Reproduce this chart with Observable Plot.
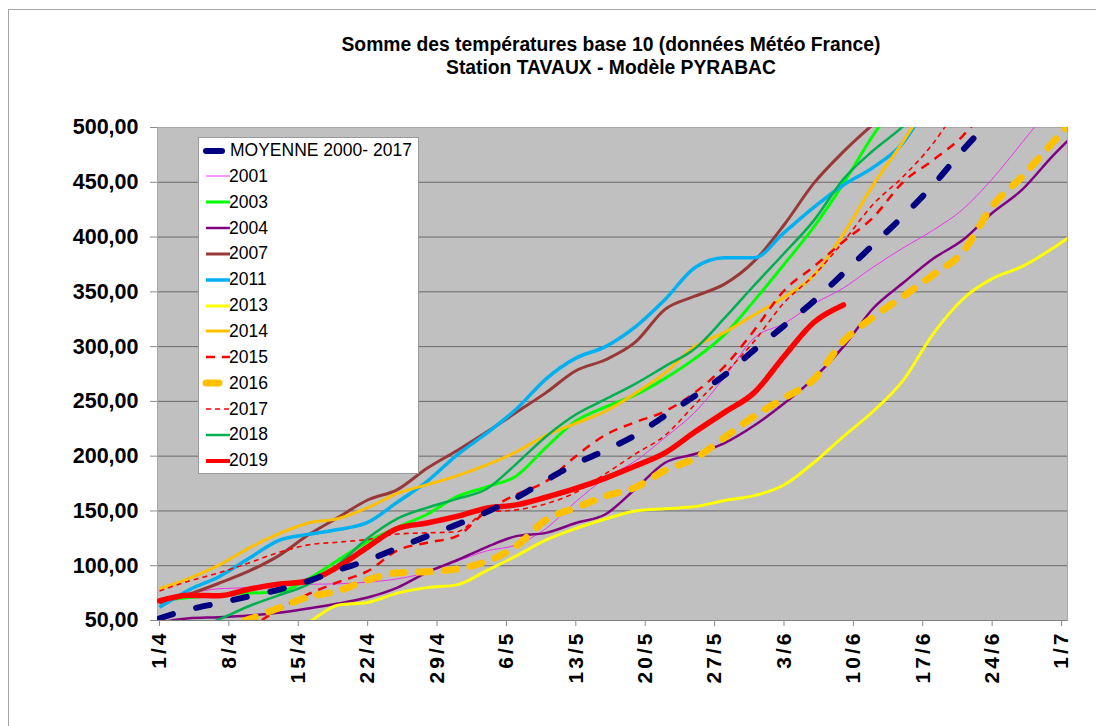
<!DOCTYPE html>
<html><head><meta charset="utf-8">
<script src="https://cdn.jsdelivr.net/npm/d3@7"></script>
<script src="https://cdn.jsdelivr.net/npm/@observablehq/plot@0.6"></script>
<style>
body{margin:0;background:#fff;font-family:"Liberation Sans",Arial,sans-serif;}
#wrap{position:relative;width:1096px;height:726px;overflow:hidden;background:#fff;}
#border{position:absolute;left:8px;top:9px;width:1300px;height:1000px;border:1px solid #a6a6a6;}
#title{position:absolute;left:0;width:1222px;top:33px;text-align:center;font-weight:bold;font-size:19.3px;line-height:23px;color:#000;}
#chart{position:absolute;left:0;top:100px;}
#legend{position:absolute;left:198px;top:137px;width:221px;height:337px;background:#fff;border:1px solid #9a9a9a;box-sizing:border-box;}
.row{position:absolute;left:0;height:22px;display:flex;align-items:center;font-size:17.5px;color:#000;white-space:nowrap;}
.row svg{margin-left:3px;margin-right:0;}
g[aria-label="x-axis tick label"] text{letter-spacing:3px;}
</style>
</head><body>
<div id="wrap">
<div id="border"></div>
<div id="title">Somme des températures base 10 (données Météo France)<br>Station TAVAUX - Modèle PYRABAC</div>
<div id="chart"></div>
<div id="legend"></div>
</div>
<script>
// day index (0 = 1 avril), sampled every 3 days
const days = [0,3,6,9,12,15,18,21,24,27,30,33,36,39,42,45,48,51,54,57,60,63,66,69,72,75,78,81,84,87,90,93];
const tickDays = [0,7,14,21,28,35,42,49,56,63,70,77,84,91];
const tickLabels = ["1/4","8/4","15/4","22/4","29/4","6/5","13/5","20/5","27/5","3/6","10/6","17/6","24/6","1/7"];
const yTicks = [50,100,150,200,250,300,350,400,450,500];

const moyenne = [52,60,66,72,78,86,96,105,116,127,137.5,149,162,178,193,205.5,219,237,255,274,297,319,341.5,367,393,419,447,479,508,null,null,null];
const y2001 = [70,75,79,80,82,83,83.5,85,88,94,104,113.5,119,134,158.5,180,195.5,217,240,272,308,321,339,353.5,372.6,390,406,425,453,486,520,null];
const y2003 = [68,71,73,75,76,88,105,122,135,147,163,172,182,208,232,245,256,271,289,311,342,375,409,449,493,530,null,null,null,null,null,null];
const y2004 = [48,52,53,54.5,57,61,65.5,71,80,94,105,117,127,130,139,147,170,194,202,212,228,248,271,300,335,358,380,397,422,443,473,500];
const y2007 = [66,74,84,95,109,128,144,160,169.5,189,205,222,240,258,278,288,304,334,346,357,378,411,449,478,503,null,null,null,null,null,null,null];
const y2011 = [62,78,90,106.5,123,128.6,133,139.5,158,177,201,221,243,270.6,289.5,300,318,343,372,381,381,404,427,447.5,463.6,486,530,null,null,null,null,null];
const y2013 = [null,null,null,null,35,48,64,66.4,75,80,82.5,95.5,109,123.5,134,142.7,150,152,154,159.5,164,173.7,194,218,241,269,311,343,362,373,389,408];
const y2014 = [79,88.5,100.5,116,129,139,143,153,166,174,182,192,204,219,230,241,257.5,276,300,313,329,345,365,403,447.6,487,530,null,null,null,null,null];
const y2015 = [null,null,null,42,60,74,85,95,114,121,127,150,165,177,200,219.5,231,241,258,282,315,351,373,396,418,450,470,492,525,null,null,null];
const y2016 = [null,null,44,51,61.5,71.5,77,87,93.5,94.5,97,104,118,142,153,163.5,171.5,187,198,217,236.5,253,270,305,327,345.7,365.3,386,428,455,485,515];
const y2017 = [77,86,93.5,102.5,112,119,121.5,124,129,130,131,149,151,156.5,167,184,202,219,247,275,305,340,365,396,430,455,485,525,null,null,null,null];
const y2018 = [null,40,51,63,73,83,101,125,143,153,161,170,193,218,238,252,266,282,298,326,356,385,415,453,479,501,530,null,null,null,null,null];
const y2019 = [68,73,72.5,78.5,83,86,99,117,134,139,145,152.5,155.5,162.5,170.5,180,191,203,222,240,258,291,322,338,null,null,null,null,null,null,null,null];

const series = [
  {name:"2001", values:y2001, stroke:"#ee33ee", width:1, dash:null, cap:"butt"},
  {name:"2003", values:y2003, stroke:"#00ff00", width:3, dash:null, cap:"butt"},
  {name:"2004", values:y2004, stroke:"#800080", width:2.5, dash:null, cap:"butt"},
  {name:"2007", values:y2007, stroke:"#993838", width:3, dash:null, cap:"butt"},
  {name:"2011", values:y2011, stroke:"#00b0f0", width:3.5, dash:null, cap:"butt"},
  {name:"2013", values:y2013, stroke:"#ffff00", width:3, dash:null, cap:"butt"},
  {name:"2014", values:y2014, stroke:"#ffc000", width:3, dash:null, cap:"butt"},
  {name:"2015", values:y2015, stroke:"#ff0000", width:2.5, dash:"9,7", cap:"butt"},
  {name:"2016", values:y2016, stroke:"#ffc000", width:7, dash:"12,14", cap:"round"},
  {name:"2017", values:y2017, stroke:"#ff0000", width:1.6, dash:"5,4", cap:"butt"},
  {name:"2018", values:y2018, stroke:"#00b050", width:2.5, dash:null, cap:"butt"},
  {name:"2019", values:y2019, stroke:"#ff0000", width:5.5, dash:null, cap:"round"},
  {name:"MOYENNE 2000- 2017", values:moyenne, stroke:"#000080", width:6, dash:"14,24", cap:"round"}
];
const legendOrder = ["MOYENNE 2000- 2017","2001","2003","2004","2007","2011","2013","2014","2015","2016","2017","2018","2019"];

const rowsOf = s => days.map((d,i)=>({day:d, value:s.values[i]})).filter(r=>r.value!=null);

const lineMarks = series.map(s => Plot.line(rowsOf(s), {
  x:"day", y:"value", stroke:s.stroke, strokeWidth:s.width,
  strokeDasharray:s.dash, strokeLinecap:s.cap, strokeLinejoin:"round",
  curve:"monotone-x", clip:true
}));

const chart = Plot.plot({
  width:1096, height:600,
  marginTop:27, marginLeft:157, marginRight:29, marginBottom:80,
  x:{type:"linear", domain:[-0.2,91.6], axis:null},
  y:{type:"linear", domain:[50,500], axis:null},
  style:{fontFamily:"'Liberation Sans', Arial, sans-serif", color:"#000", background:"transparent", overflow:"visible"},
  marks:[
    Plot.frame({fill:"#c0c0c0", stroke:null}),
    Plot.gridY(yTicks, {stroke:"#6a6a6a", strokeOpacity:1, strokeWidth:1}),
    Plot.frame({stroke:"#a8a8a8", strokeWidth:1}),
    Plot.ruleY([50], {stroke:"#808080", strokeWidth:1.2}),
    Plot.axisY(yTicks, {label:null, tickFormat:d=>d.toFixed(2).replace(".", ","), fontSize:21.5, fontWeight:"bold", fill:"#000", stroke:"#8a8a8a", tickSize:7, tickPadding:12}),
    Plot.axisX(tickDays, {label:null, tickFormat:(d,i)=>tickLabels[i], tickRotate:-90, fontSize:21, fontWeight:"bold", fill:"#000", stroke:"#8a8a8a", tickSize:6, tickPadding:4}),
    ...lineMarks
  ]
});
document.getElementById("chart").appendChild(chart);

// legend
const leg = document.getElementById("legend");
legendOrder.forEach((name,i)=>{
  const s = series.find(t=>t.name===name);
  const row = document.createElement("div");
  row.className = "row";
  row.style.top = (13.5 + i*25.85 - 11 - 1) + "px";
  const short = (name.startsWith("MOYENNE") || name==="2016");
  const x1 = 4, x2 = short ? (name==="2016" ? 17 : 20) : 28;
  const dash = name==="2015" ? "9,7" : (name==="2017" ? "5,4" : null);
  const svg = `<svg width="28" height="14" style="overflow:visible"><line x1="${x1}" y1="7" x2="${x2}" y2="7" stroke="${s.stroke}" stroke-width="${name==='2001'?1:Math.min(s.width, name==='MOYENNE 2000- 2017'?6:(name==='2016'?7:4))}" stroke-linecap="${short?'round':'butt'}" ${dash?`stroke-dasharray="${dash}"`:''}/></svg>`;
  row.innerHTML = svg + `<span style="margin-left:${name.startsWith('MOYENNE')?0:-1}px">${name}</span>`;
  leg.appendChild(row);
});
</script>
</body></html>
